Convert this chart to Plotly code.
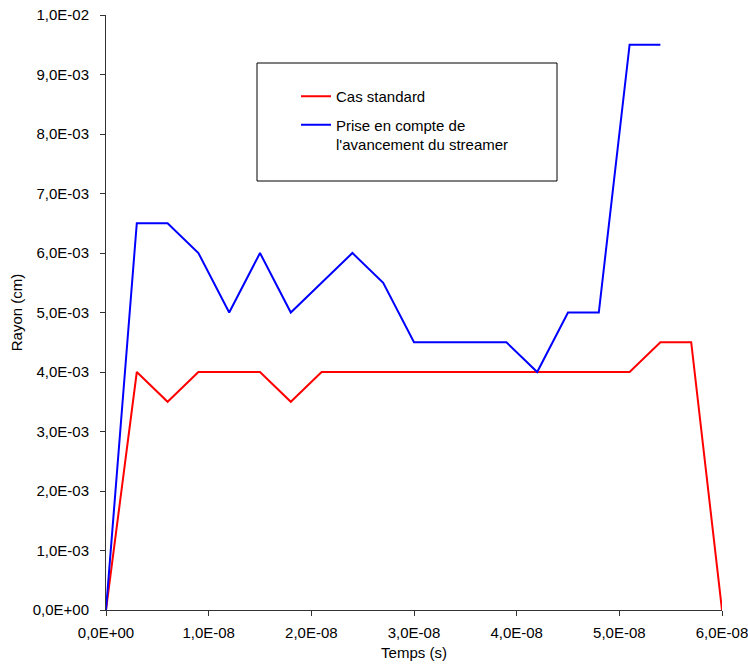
import plotly.graph_objects as go

temps = [0.0, 0.3e-8, 0.6e-8, 0.9e-8, 1.2e-8, 1.5e-8, 1.8e-8, 2.1e-8, 2.4e-8, 2.7e-8,
         3.0e-8, 3.3e-8, 3.6e-8, 3.9e-8, 4.2e-8, 4.5e-8, 4.8e-8, 5.1e-8, 5.4e-8, 5.7e-8, 6.0e-8]
cas_standard = [0.0, 4.0e-3, 3.5e-3, 4.0e-3, 4.0e-3, 4.0e-3, 3.5e-3, 4.0e-3, 4.0e-3, 4.0e-3,
                4.0e-3, 4.0e-3, 4.0e-3, 4.0e-3, 4.0e-3, 4.0e-3, 4.0e-3, 4.0e-3, 4.5e-3, 4.5e-3, 0.0]
temps_streamer = temps[:19]
streamer = [0.0, 6.5e-3, 6.5e-3, 6.0e-3, 5.0e-3, 6.0e-3, 5.0e-3, 5.5e-3, 6.0e-3, 5.5e-3,
            4.5e-3, 4.5e-3, 4.5e-3, 4.5e-3, 4.0e-3, 5.0e-3, 5.0e-3, 9.5e-3, 9.5e-3]

x_tickvals = [0, 1e-8, 2e-8, 3e-8, 4e-8, 5e-8, 6e-8]
x_ticktext = ["0,0E+00", "1,0E-08", "2,0E-08", "3,0E-08", "4,0E-08", "5,0E-08", "6,0E-08"]
y_tickvals = [0, 1e-3, 2e-3, 3e-3, 4e-3, 5e-3, 6e-3, 7e-3, 8e-3, 9e-3, 1e-2]
y_ticktext = ["0,0E+00", "1,0E-03", "2,0E-03", "3,0E-03", "4,0E-03", "5,0E-03",
              "6,0E-03", "7,0E-03", "8,0E-03", "9,0E-03", "1,0E-02"]

fig = go.Figure()
fig.add_trace(go.Scatter(x=temps, y=cas_standard, mode="lines", name="Cas standard",
                         legendgroup="a",
                         line=dict(color="#ff0000", width=2)))
fig.add_trace(go.Scatter(x=temps_streamer, y=streamer, mode="lines",
                         name="Prise en compte de<br>l'avancement du streamer",
                         legendgroup="b",
                         line=dict(color="#0000ff", width=2)))

font = "Liberation Sans, Arial, sans-serif"
# the page body margin is removed (post_script), so the figure fills the window
W, H = 748, 664
L, R, T, B = 106, 26, 15, 54
pw, ph = W - L - R, H - T - B


def px_x(px):  # page x -> paper x
    return (px - L) / pw


def px_y(py):  # page y -> paper y
    return (H - B - py) / ph


fig.update_layout(
    width=W, height=H,
    margin=dict(l=L, r=R, t=T, b=B),
    paper_bgcolor="white", plot_bgcolor="white",
    font=dict(family=font, size=15, color="black"),
    showlegend=True,
    legend=dict(x=px_x(296), y=px_y(80), xanchor="left", yanchor="top",
                bgcolor="rgba(0,0,0,0)", borderwidth=0, valign="top",
                font=dict(family=font, size=15), tracegroupgap=6),
    xaxis=dict(range=[0, 6e-8], tickvals=x_tickvals, ticktext=x_ticktext,
               showgrid=False, zeroline=False, showline=True, linecolor="#333333",
               linewidth=1, ticks="outside", ticklen=5, tickcolor="#333333",
               tickfont=dict(size=15), automargin=False, ticklabelstandoff=4,
               ticklabeloverflow="allow",
               title=dict(text="Temps (s)", font=dict(size=15), standoff=7)),
    yaxis=dict(range=[0, 1e-2], tickvals=y_tickvals, ticktext=y_ticktext,
               showgrid=False, zeroline=False, showline=True, linecolor="#333333",
               linewidth=1, ticks="outside", ticklen=5, tickcolor="#333333",
               tickfont=dict(size=15), automargin=False, ticklabelstandoff=8,
               ticklabeloverflow="allow",
               title=dict(text="Rayon (cm)", font=dict(size=15), standoff=6)),
    shapes=[dict(type="rect", xref="paper", yref="paper",
                 x0=px_x(257), x1=px_x(557),
                 y0=px_y(181), y1=px_y(63),
                 line=dict(color="black", width=1), fillcolor="rgba(0,0,0,0)")],
)

fig.write_html("out.html",
               config={"displayModeBar": False},
               post_script="document.body.style.margin='0';document.body.style.overflow='hidden';")
